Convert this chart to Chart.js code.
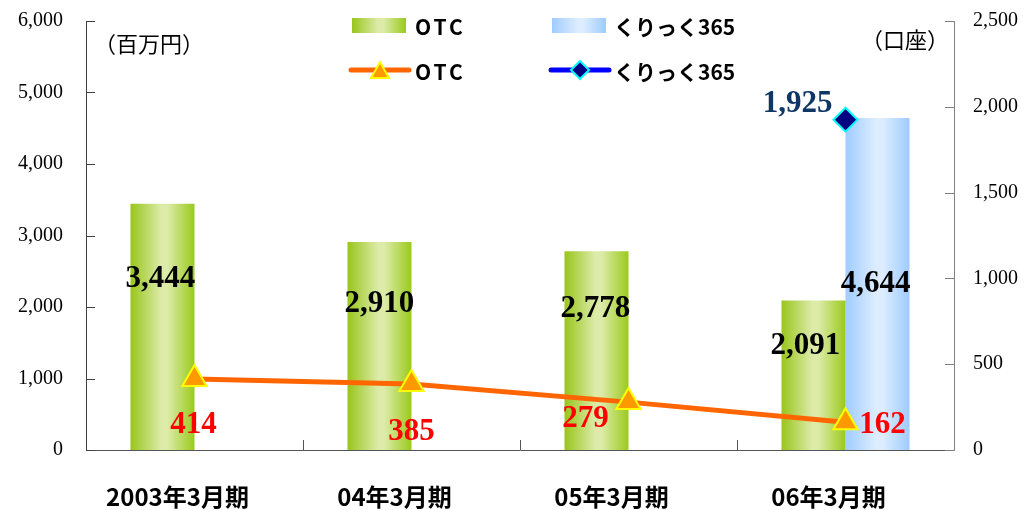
<!DOCTYPE html>
<html><head><meta charset="utf-8">
<script src="https://cdn.jsdelivr.net/npm/chart.js@4"></script>
<style>html,body{margin:0;padding:0;background:#fff;} #wrap{width:1032px;height:510px;}</style>
</head><body><div id="wrap"><canvas id="c" width="1032" height="510"></canvas></div>
<script>
// ---- data ----
const categories = ['2003年3月期', '04年3月期', '05年3月期', '06年3月期'];
const otcRevenue = [3444, 2910, 2778, 2091];          // 百万円 (bars)
const clickRevenue = [null, null, null, 4644];        // 百万円 (bars)
const otcAccounts = [414, 385, 279, 162];             // 口座 (line)
const clickAccounts = [null, null, null, 1925];       // 口座 (line)
const seriesNames = ['OTC', 'くりっく365'];
const leftUnit = '（百万円）';
const rightUnit = '（口座）';

// ---- style / layout ----
const CAT_PCT = 0.59;
const PLOT = {left: 86, right: 954, top: 21, bottom: 450};
const W = 1032, H = 510;
const fmt = v => Number(v).toLocaleString('en-US');
const SERIF = '"Liberation Serif", "Times New Roman", serif';
const JP = '"Noto Sans CJK JP", "Noto Sans", sans-serif';

const greenStops = ['#98C51B', '#DCEBA8', '#9ACA1C'];
const blueStops = ['#9FCCFF', '#DDEDFF', '#9ECBFF'];

function hGrad(c2d, x0, w, stops) {
  const g = c2d.createLinearGradient(x0, 0, x0 + w, 0);
  g.addColorStop(0, stops[0]);
  g.addColorStop(0.48, stops[1]);
  g.addColorStop(0.58, stops[1]);
  g.addColorStop(1, stops[2]);
  return g;
}
function barFill(stops, side) {
  return (ctx) => {
    const chart = ctx.chart;
    const xs = chart.scales && chart.scales.x;
    if (!xs || ctx.type !== 'data' || !xs.width) return stops[0];
    const center = xs.getPixelForValue(ctx.dataIndex);
    const w = xs.width / categories.length * CAT_PCT / 2;
    const x0 = side < 0 ? center - w : center;
    return hGrad(chart.ctx, x0, w, stops);
  };
}

// label offsets (pixels) relative to the element
const labelCfg = {
  0: {color: '#000000', dx: [-2, 0, -1, -8], dy: [75, 62, 58, 45]},
  1: {color: '#000000', dx: [0, 0, 0, -2], dy: [0, 0, 0, 166]},
  2: {color: '#FF0000', dx: [-1, 0, -43, 37], dy: [46, 48, 17, 3]},
  3: {color: '#0E3766', dx: [0, 0, 0, -48], dy: [0, 0, 0, -16]}
};

const labelsPlugin = {
  id: 'valueLabels',
  afterDatasetsDraw(chart) {
    const c = chart.ctx;
    c.save();
    c.font = 'bold 31px ' + SERIF;
    c.textAlign = 'center';
    c.textBaseline = 'middle';
    chart.data.datasets.forEach((ds, di) => {
      const meta = chart.getDatasetMeta(di);
      const cfg = labelCfg[di];
      meta.data.forEach((el, i) => {
        const v = ds.data[i];
        if (v === null || v === undefined) return;
        c.fillStyle = cfg.color;
        c.fillText(fmt(v), el.x + cfg.dx[i], el.y + cfg.dy[i]);
      });
    });
    c.restore();
  }
};

const decorPlugin = {
  id: 'decor',
  afterDraw(chart) {
    const c = chart.ctx;
    const a = chart.chartArea;
    c.save();
    // inside tick marks
    c.lineWidth = 1;
    c.strokeStyle = '#404040';
    chart.scales.y.ticks.forEach(t => {
      const y = Math.round(chart.scales.y.getPixelForValue(t.value)) + 0.5;
      c.beginPath(); c.moveTo(a.left, y); c.lineTo(a.left + 9, y); c.stroke();
    });
    c.strokeStyle = '#808080';
    chart.scales.y1.ticks.forEach(t => {
      const y = Math.round(chart.scales.y1.getPixelForValue(t.value)) + 0.5;
      c.beginPath(); c.moveTo(a.right - 9, y); c.lineTo(a.right, y); c.stroke();
    });
    c.strokeStyle = '#555555';
    const n = categories.length;
    for (let i = 1; i < n; i++) {
      const x = Math.round(a.left + (a.right - a.left) * i / n) + 0.5;
      c.beginPath(); c.moveTo(x, a.bottom); c.lineTo(x, a.bottom - 10); c.stroke();
    }
    // unit titles
    c.fillStyle = '#000';
    c.font = '22px ' + JP;
    c.textAlign = 'center';
    c.textBaseline = 'middle';
    c.fillText(leftUnit, 149, 44);
    c.fillText(rightUnit, 905, 40);

    // legend
    c.font = 'bold 21px ' + JP;
    c.textAlign = 'left';
    // row 1: bars
    c.fillStyle = hGrad(c, 352, 54, greenStops);
    c.fillRect(352, 18, 54, 15);
    c.fillStyle = hGrad(c, 552, 54, blueStops);
    c.fillRect(552, 18, 54, 15);
    c.fillStyle = '#000';
    if ('letterSpacing' in c) c.letterSpacing = '3px';
    c.fillText(seriesNames[0], 415, 27);
    c.fillText(seriesNames[0], 415, 72);
    if ('letterSpacing' in c) c.letterSpacing = '0px';
    c.fillText(seriesNames[1], 614, 27);
    c.fillText(seriesNames[1], 614, 72);
    // row 2: lines
    c.lineCap = 'round';
    c.lineWidth = 5;
    c.strokeStyle = '#FF6600';
    c.beginPath(); c.moveTo(351, 70); c.lineTo(409, 70); c.stroke();
    c.strokeStyle = '#0000FF';
    c.beginPath(); c.moveTo(551, 70); c.lineTo(609, 70); c.stroke();
    c.lineCap = 'butt';
    c.lineWidth = 2;
    c.fillStyle = '#FF9900'; c.strokeStyle = '#FFFF00';
    c.beginPath(); c.moveTo(380, 62); c.lineTo(389, 78); c.lineTo(371, 78); c.closePath(); c.fill(); c.stroke();
    c.fillStyle = '#000080'; c.strokeStyle = '#00FFFF';
    c.beginPath(); c.moveTo(580, 61); c.lineTo(589, 70); c.lineTo(580, 79); c.lineTo(571, 70); c.closePath(); c.fill(); c.stroke();
    c.restore();
  }
};

function noPad(s) { s.paddingTop = 0; s.paddingBottom = 0; }

new Chart(document.getElementById('c'), {
  data: {
    labels: categories,
    datasets: [
      {type: 'bar', label: seriesNames[0], data: otcRevenue, yAxisID: 'y', order: 2,
       backgroundColor: barFill(greenStops, -1), borderWidth: 0,
       categoryPercentage: CAT_PCT, barPercentage: 1},
      {type: 'bar', label: seriesNames[1], data: clickRevenue, yAxisID: 'y', order: 2,
       backgroundColor: barFill(blueStops, 1), borderWidth: 0,
       categoryPercentage: CAT_PCT, barPercentage: 1},
      {type: 'line', label: seriesNames[0], data: otcAccounts, yAxisID: 'y1', order: 1,
       borderColor: '#FF6600', borderWidth: 5, tension: 0,
       pointStyle: 'triangle', pointRadius: 14, pointBackgroundColor: '#FF9900',
       pointBorderColor: '#FFFF00', pointBorderWidth: 2},
      {type: 'line', label: seriesNames[1], data: clickAccounts, yAxisID: 'y1', order: 0,
       borderColor: '#0000FF', borderWidth: 5, spanGaps: false,
       pointStyle: 'rectRot', pointRadius: 12, pointBackgroundColor: '#000080',
       pointBorderColor: '#00FFFF', pointBorderWidth: 2}
    ]
  },
  options: {
    responsive: false,
    animation: false,
    devicePixelRatio: 1,
    layout: {padding: {top: PLOT.top, left: 0, right: 0, bottom: 0}},
    plugins: {legend: {display: false}, tooltip: {enabled: false}},
    scales: {
      x: {
        offset: true,
        grid: {display: false, drawTicks: false},
        border: {display: true, color: '#555555', width: 1},
        ticks: {color: '#000', font: {family: JP, size: 24, weight: 'bold'}, padding: 32,
                labelOffset: -17, maxRotation: 0, autoSkip: false},
        afterFit(s) { s.height = H - PLOT.bottom; s.paddingLeft = 0; s.paddingRight = 0; }
      },
      y: {
        position: 'left', min: 0, max: 6000,
        grid: {display: false, drawTicks: false},
        border: {display: true, color: '#404040', width: 1},
        ticks: {stepSize: 1000, color: '#000', font: {family: SERIF, size: 20}, padding: 23,
                callback: v => fmt(v)},
        afterFit(s) { s.width = PLOT.left; noPad(s); }
      },
      y1: {
        position: 'right', min: 0, max: 2500,
        grid: {display: false, drawTicks: false},
        border: {display: true, color: '#808080', width: 1},
        ticks: {stepSize: 500, color: '#000', font: {family: SERIF, size: 20}, padding: 19,
                callback: v => fmt(v)},
        afterFit(s) { s.width = W - PLOT.right; noPad(s); }
      }
    }
  },
  plugins: [labelsPlugin, decorPlugin]
});
</script>
</body></html>
